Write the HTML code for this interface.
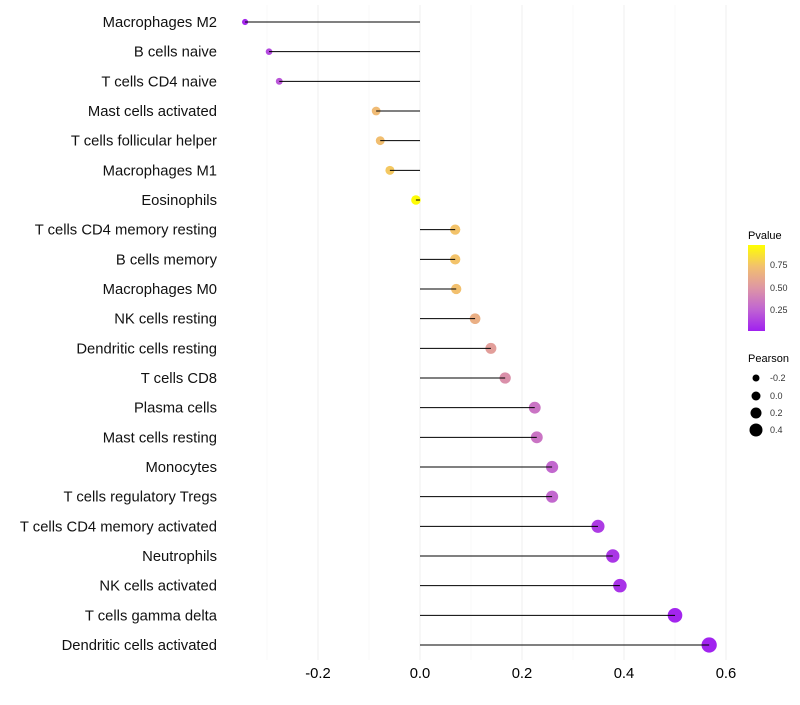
<!DOCTYPE html>
<html><head><meta charset="utf-8"><style>
body{margin:0;background:#fff;font-family:"Liberation Sans",sans-serif}
</style></head><body>
<svg id="chart" width="800" height="700"></svg>
<script>
const categories=["Macrophages M2","B cells naive","T cells CD4 naive","Mast cells activated","T cells follicular helper","Macrophages M1","Eosinophils","T cells CD4 memory resting","B cells memory","Macrophages M0","NK cells resting","Dendritic cells resting","T cells CD8","Plasma cells","Mast cells resting","Monocytes","T cells regulatory  Tregs","T cells CD4 memory activated","Neutrophils","NK cells activated","T cells gamma delta","Dendritic cells activated"];
const pearson=[-0.343,-0.296,-0.276,-0.086,-0.078,-0.059,-0.008,0.069,0.069,0.071,0.108,0.139,0.167,0.225,0.229,0.259,0.259,0.349,0.378,0.392,0.5,0.567];
const pvalues=[0.03,0.15,0.2,0.72,0.74,0.78,0.99,0.76,0.76,0.75,0.65,0.55,0.47,0.33,0.33,0.27,0.27,0.1,0.08,0.07,0.02,0.01];
const xTicks=[-0.2,0,0.2,0.4,0.6];
const xTickLabels=["-0.2","0.0","0.2","0.4","0.6"];
const NS="http://www.w3.org/2000/svg";
const svg=document.getElementById('chart');
const x=v=>420+v*510;
const y=i=>22+i*(623/21);
const rad=v=>Math.max(1.8,4.8+5*v);
const stops=[[0,[160,32,240]],[0.25,[192,100,210]],[0.5,[222,150,165]],[0.75,[242,192,110]],[1,[255,255,0]]];
function col(p){for(let k=1;k<stops.length;k++){if(p<=stops[k][0]){const a=stops[k-1],b=stops[k],t=(p-a[0])/(b[0]-a[0]);return 'rgb('+a[1].map((c,j)=>Math.round(c+(b[1][j]-c)*t)).join(',')+')';}}return 'rgb(255,255,0)';}
function el(t,a,txt){const e=document.createElementNS(NS,t);for(const k in a)e.setAttribute(k,a[k]);if(txt!==undefined)e.textContent=txt;svg.appendChild(e);return e;}
[-0.3,-0.1,0.1,0.3,0.5].forEach(v=>{const g=el('line',{x1:x(v),x2:x(v),y1:5,y2:660,stroke:'#f6f6f6','stroke-width':0.6});

});
xTicks.forEach((v,i)=>{const g=el('line',{x1:x(v),x2:x(v),y1:5,y2:660,stroke:'#efefef','stroke-width':1});


const t=el('text',{x:x(v),y:678,'text-anchor':'middle','font-size':14.8,fill:'#000'},xTickLabels[i]);

});
categories.forEach((c,i)=>{
const t=el('text',{x:217,y:y(i)+5,'text-anchor':'end','font-size':14.8,fill:'#111'},c);


const d=el('circle',{cx:x(pearson[i]),cy:y(i),r:rad(pearson[i]),fill:col(pvalues[i])});


const l=el('line',{x1:x(0),x2:x(pearson[i]),y1:y(i),y2:y(i),stroke:'#000','stroke-width':1});


});
</script>
<svg style="position:absolute;left:0;top:0" width="800" height="700">
<defs><linearGradient id="pg" x1="0" y1="1" x2="0" y2="0">
<stop offset="0" stop-color="rgb(160,32,240)"/><stop offset="0.25" stop-color="rgb(192,100,210)"/><stop offset="0.5" stop-color="rgb(222,150,165)"/><stop offset="0.75" stop-color="rgb(242,192,110)"/><stop offset="1" stop-color="rgb(255,255,0)"/></linearGradient></defs>
<text x="748" y="239" font-size="11" font-family="Liberation Sans">Pvalue</text>
<rect x="748" y="245" width="17" height="86" fill="url(#pg)"/>
<g font-size="9" font-family="Liberation Sans" fill="#333">
<text x="770" y="268">0.75</text><text x="770" y="291">0.50</text><text x="770" y="313">0.25</text></g>
<text x="748" y="362" font-size="11" font-family="Liberation Sans">Pearson</text>
<g fill="#000"><circle cx="756" cy="378" r="3.5"/><circle cx="756" cy="396" r="4.5"/><circle cx="756" cy="413" r="5.5"/><circle cx="756" cy="430" r="6.5"/></g>
<g font-size="9" font-family="Liberation Sans" fill="#333">
<text x="770" y="381">-0.2</text><text x="770" y="399">0.0</text><text x="770" y="416">0.2</text><text x="770" y="433">0.4</text></g>
</svg>
</body></html>
